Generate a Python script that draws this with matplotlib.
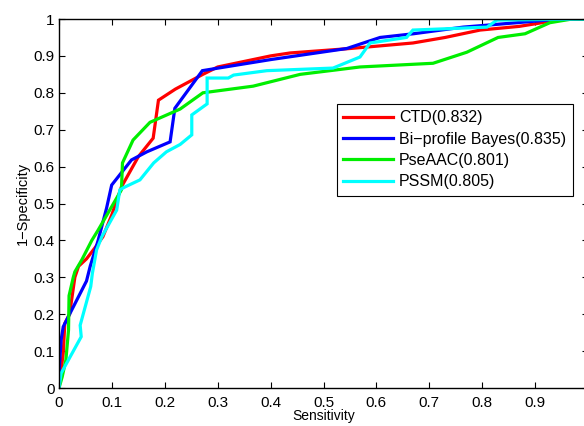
import matplotlib
matplotlib.use('Agg')
import matplotlib.pyplot as plt

plt.rcParams['font.family'] = ['Liberation Sans', 'DejaVu Sans']

# ROC curves (x = sensitivity, y = 1-specificity)
ctd_x = [0.0, 0.008, 0.011, 0.02, 0.03, 0.037, 0.052, 0.068, 0.083, 0.1, 0.118, 0.15, 0.178,
         0.188, 0.22, 0.272, 0.30, 0.40, 0.437, 0.55, 0.669, 0.73, 0.796, 0.87, 0.909, 0.95, 1.0]
ctd_y = [0.0, 0.095, 0.175, 0.2, 0.30, 0.33, 0.35, 0.38, 0.41, 0.47, 0.545, 0.627, 0.677,
         0.78, 0.81, 0.85, 0.87, 0.90, 0.908, 0.92, 0.935, 0.95, 0.97, 0.98, 0.989, 1.0, 1.0]

bayes_x = [0.0, 0.0, 0.004, 0.008, 0.02, 0.052, 0.059, 0.074, 0.09, 0.0996, 0.137, 0.166, 0.21,
           0.219, 0.271, 0.40, 0.544, 0.607, 0.67, 0.764, 0.866, 0.947, 1.0]
bayes_y = [0.0, 0.04, 0.13, 0.166, 0.2, 0.29, 0.33, 0.40, 0.488, 0.55, 0.618, 0.64, 0.667,
           0.758, 0.86, 0.89, 0.92, 0.95, 0.96, 0.978, 0.99, 1.0, 1.0]

pseaac_x = [0.0, 0.006, 0.013, 0.018, 0.019, 0.027, 0.03, 0.043, 0.062, 0.074, 0.118, 0.12,
            0.14, 0.172, 0.229, 0.272, 0.367, 0.456, 0.569, 0.707, 0.771, 0.83, 0.881, 0.928,
            0.97, 1.0]
pseaac_y = [0.0, 0.03, 0.076, 0.157, 0.25, 0.30, 0.315, 0.347, 0.40, 0.428, 0.537, 0.61,
            0.672, 0.72, 0.756, 0.80, 0.818, 0.85, 0.87, 0.88, 0.91, 0.95, 0.96, 0.99,
            1.0, 1.0]

pssm_x = [0.0, 0.004, 0.042, 0.04, 0.06, 0.063, 0.071, 0.081, 0.109, 0.115, 0.125, 0.153,
          0.179, 0.203, 0.229, 0.251, 0.251, 0.28, 0.28, 0.32, 0.33, 0.393, 0.518, 0.569,
          0.588, 0.657, 0.669, 0.809, 0.828, 1.0]
pssm_y = [0.0, 0.04, 0.139, 0.17, 0.275, 0.31, 0.374, 0.41, 0.482, 0.537, 0.545, 0.564,
          0.61, 0.64, 0.66, 0.686, 0.74, 0.77, 0.84, 0.84, 0.848, 0.86, 0.867, 0.897,
          0.935, 0.95, 0.97, 0.978, 0.997, 1.0]

labels = ['CTD(0.832)', 'Bi\u2212profile Bayes(0.835)', 'PseAAC(0.801)', 'PSSM(0.805)']
colors = ['#ff0000', '#0000ff', '#00ee00', '#00ffff']
ticks = [0, 0.1, 0.2, 0.3, 0.4, 0.5, 0.6, 0.7, 0.8, 0.9, 1]
tick_labels = ['0', '0.1', '0.2', '0.3', '0.4', '0.5', '0.6', '0.7', '0.8', '0.9', '1']

fig = plt.figure(figsize=(5.84, 4.26), dpi=100)
ax = fig.add_axes([59 / 584, 38 / 426, 529 / 584, 369 / 426])

series = [(ctd_x, ctd_y), (bayes_x, bayes_y), (pseaac_x, pseaac_y), (pssm_x, pssm_y)]
for (xs, ys), lab, col in zip(series, labels, colors):
    ax.plot(xs, ys, color=col, lw=2.3, label=lab, solid_joinstyle='miter')

ax.set_xlim(0, 1)
ax.set_ylim(0, 1)
ax.set_xticks(ticks)
# the "1" label of the x axis falls outside the cropped figure in the reference
ax.set_xticklabels(tick_labels[:-1] + [''])
ax.set_yticks(ticks)
ax.set_yticklabels(tick_labels)
ax.tick_params(direction='in', top=True, right=True, length=4, width=0.8, labelsize=11)
ax.tick_params(axis='x', pad=6)
ax.tick_params(axis='y', pad=3)
for s in ax.spines.values():
    s.set_linewidth(1.0)

ax.set_xlabel('Sensitivity', fontsize=10, labelpad=-1)
ax.set_ylabel('1\u2212Specificity', fontsize=10.5, labelpad=3)

leg = ax.legend(loc='upper left', bbox_to_anchor=(0.525, 0.77), fontsize=11.5,
                frameon=True, fancybox=False, edgecolor='black', framealpha=1,
                handlelength=3.1, handletextpad=0.4, borderpad=0.4, labelspacing=0.4,
                borderaxespad=0)
leg.get_frame().set_linewidth(0.8)

fig.savefig('out.png', dpi=100, facecolor='white')
